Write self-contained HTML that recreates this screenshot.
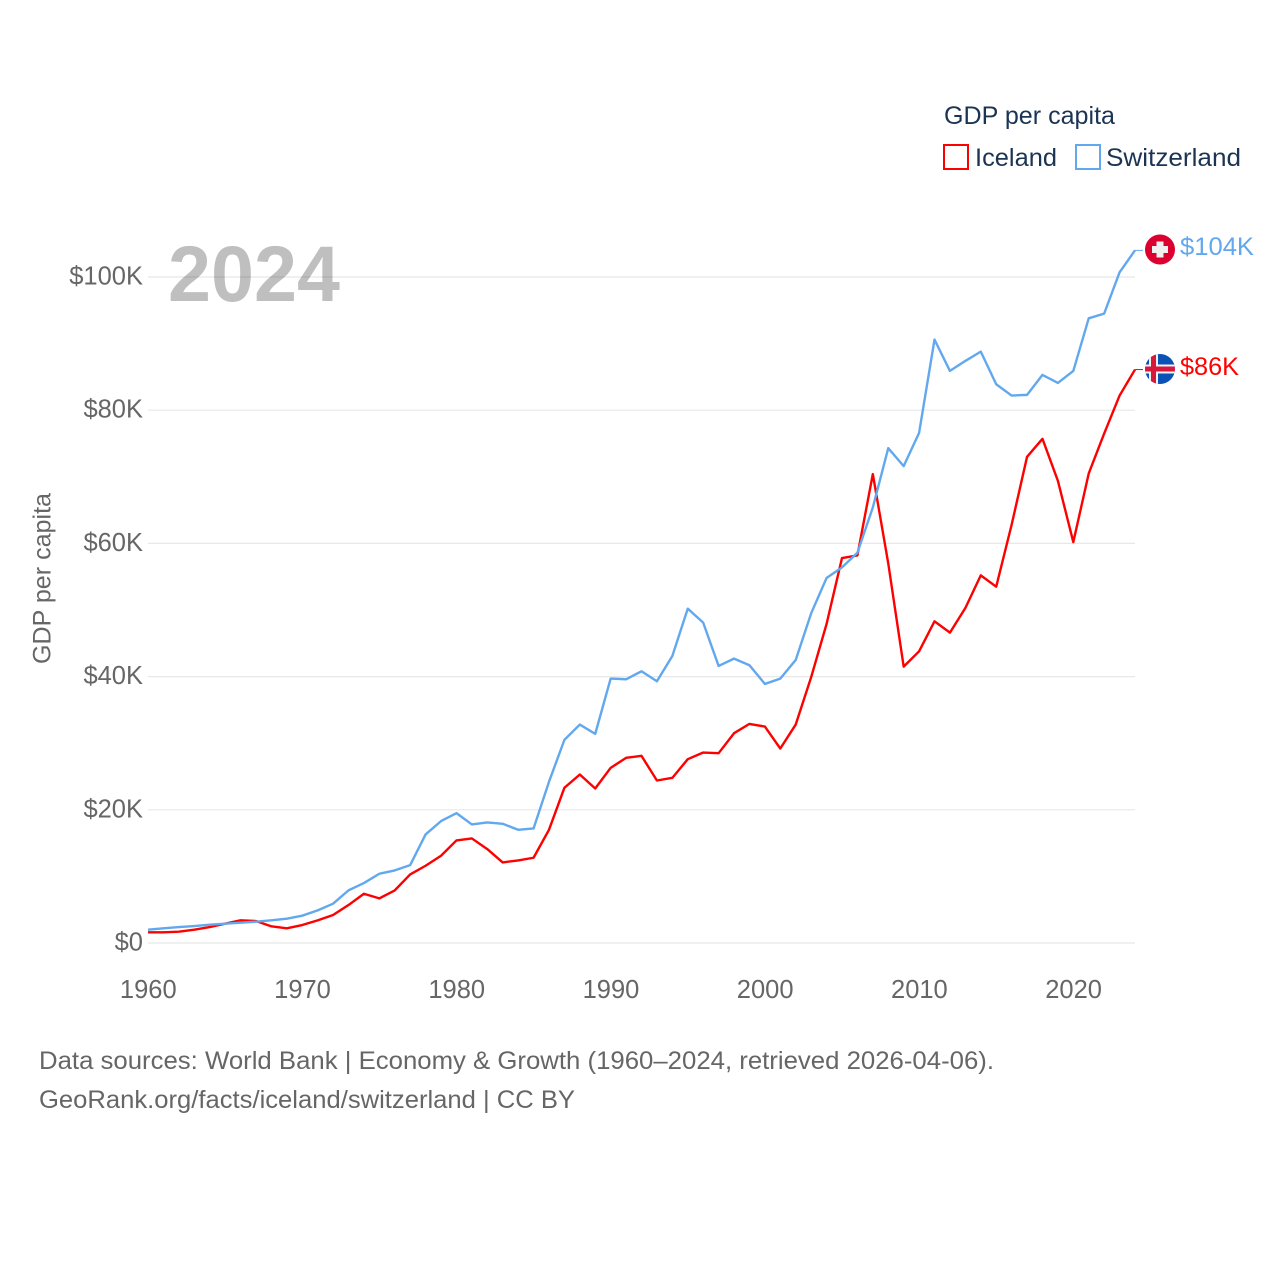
<!DOCTYPE html>
<html lang="en">
<head>
<meta charset="utf-8">
<title>GDP per capita: Iceland and Switzerland</title>
<style>
html,body{margin:0;padding:0;background:#fff;}
svg{display:block;font-family:"Liberation Sans",sans-serif;}
</style>
</head>
<body>
<svg id="chart" xmlns="http://www.w3.org/2000/svg" width="1280" height="1280" viewBox="0 0 1280 1280">
  <defs>
    <clipPath id="flag-clip-ch"><circle cx="1160" cy="249.5" r="15"/></clipPath>
    <clipPath id="flag-clip-is"><circle cx="1160" cy="369" r="15"/></clipPath>
  </defs>
  <g id="grid"></g>
  <g id="xticks"></g>
  <g id="yticks"></g>
  <text transform="translate(50.5,578.5) rotate(-90)" text-anchor="middle" font-size="25" fill="#666" textLength="171" lengthAdjust="spacingAndGlyphs">GDP per capita</text>
  <text x="168" y="301" font-size="79" font-weight="700" fill="#000" fill-opacity="0.25" textLength="172" lengthAdjust="spacingAndGlyphs">2024</text>
  <g id="series"></g>

  <g clip-path="url(#flag-clip-ch)">
    <rect x="1145" y="234" width="30" height="31" fill="#dc0030"/>
    <rect x="1156.5" y="241.5" width="7" height="16" fill="#f0f0f0"/>
    <rect x="1152" y="246" width="16" height="7" fill="#f0f0f0"/>
  </g>
  <text x="1180" y="255" font-size="25" fill="#62a8ee" textLength="74" lengthAdjust="spacingAndGlyphs">$104K</text>

  <g clip-path="url(#flag-clip-is)">
    <rect x="1145" y="354" width="30" height="30" fill="#0a52b5"/>
    <rect x="1149" y="354" width="9" height="30" fill="#f2f2f2"/>
    <rect x="1145" y="364.5" width="30" height="9" fill="#f2f2f2"/>
    <rect x="1151" y="354" width="5" height="30" fill="#d7183c"/>
    <rect x="1145" y="366.5" width="30" height="5" fill="#d7183c"/>
  </g>
  <text x="1180" y="375" font-size="25" fill="#ff0000" textLength="59" lengthAdjust="spacingAndGlyphs">$86K</text>

  <g>
    <text x="944" y="124" font-size="25" fill="#1b3454" textLength="171" lengthAdjust="spacingAndGlyphs">GDP per capita</text>
    <rect x="944" y="145" width="24" height="24" fill="none" stroke="#ff0000" stroke-width="2"/>
    <text x="975" y="166" font-size="25" fill="#1b3454" textLength="82" lengthAdjust="spacingAndGlyphs">Iceland</text>
    <rect x="1076" y="145" width="24" height="24" fill="none" stroke="#62a8ee" stroke-width="2"/>
    <text x="1106" y="166" font-size="25" fill="#1b3454" textLength="135" lengthAdjust="spacingAndGlyphs">Switzerland</text>
  </g>

  <text x="39" y="1069" font-size="25" fill="#666" textLength="955" lengthAdjust="spacingAndGlyphs">Data sources: World Bank | Economy &amp; Growth (1960–2024, retrieved 2026-04-06).</text>
  <text x="39" y="1108" font-size="25" fill="#666" textLength="536" lengthAdjust="spacingAndGlyphs">GeoRank.org/facts/iceland/switzerland | CC BY</text>
</svg>
<script>
const years = [1960,1961,1962,1963,1964,1965,1966,1967,1968,1969,1970,1971,1972,1973,1974,1975,1976,1977,1978,1979,1980,1981,1982,1983,1984,1985,1986,1987,1988,1989,1990,1991,1992,1993,1994,1995,1996,1997,1998,1999,2000,2001,2002,2003,2004,2005,2006,2007,2008,2009,2010,2011,2012,2013,2014,2015,2016,2017,2018,2019,2020,2021,2022,2023,2024];
const iceland = [1.6,1.6,1.7,2.0,2.4,2.9,3.4,3.3,2.5,2.2,2.7,3.4,4.2,5.7,7.4,6.7,7.9,10.3,11.6,13.1,15.4,15.7,14.1,12.1,12.4,12.8,17.0,23.3,25.3,23.2,26.3,27.8,28.1,24.4,24.8,27.6,28.6,28.5,31.5,32.9,32.5,29.2,32.8,39.9,47.9,57.8,58.2,70.4,57.0,41.5,43.8,48.3,46.6,50.3,55.2,53.5,62.8,73.0,75.7,69.4,60.2,70.5,76.5,82.2,86.1];
const switzerland = [2.0,2.2,2.4,2.55,2.75,2.9,3.05,3.2,3.4,3.65,4.1,4.9,5.9,7.9,9.0,10.4,10.9,11.7,16.3,18.3,19.5,17.8,18.1,17.9,17.0,17.2,24.2,30.5,32.8,31.4,39.7,39.6,40.8,39.3,43.1,50.2,48.1,41.6,42.7,41.7,38.9,39.7,42.5,49.5,54.8,56.4,58.6,65.4,74.3,71.6,76.6,90.6,85.9,87.4,88.8,83.9,82.2,82.3,85.3,84.1,85.9,93.8,94.5,100.7,104.0];
const xTickYears = [1960,1970,1980,1990,2000,2010,2020];
const yTickValues = [0,20,40,60,80,100];
const yTickLabels = ["$0","$20K","$40K","$60K","$80K","$100K"];

const SVG_NS = "http://www.w3.org/2000/svg";
function xScale(year){ return 148 + (year - 1960) * (1135 - 148) / (2024 - 1960); }
function yScale(value){ return 943 - value * (943 - 277) / 100; }
function make(tag, parent){
  const el = document.createElementNS(SVG_NS, tag);
  parent.appendChild(el);
  return el;
}

const gridGroup = document.getElementById("grid");
const yGroup = document.getElementById("yticks");
yTickValues.forEach(function(v, i){
  const line = make("line", gridGroup);
  
  
  line.setAttribute("x1", 148);
  line.setAttribute("x2", 1135);
  line.setAttribute("y1", yScale(v));
  line.setAttribute("y2", yScale(v));
  line.setAttribute("stroke", "#e8e8e8");
  line.setAttribute("stroke-width", "1.2");
  const label = make("text", yGroup);
  
  
  label.setAttribute("x", 143);
  label.setAttribute("y", yScale(v) + 7.5);
  label.setAttribute("text-anchor", "end");
  label.setAttribute("font-size", "25.5");
  label.setAttribute("fill", "#666");
  label.textContent = yTickLabels[i];
});

const xGroup = document.getElementById("xticks");
xTickYears.forEach(function(y){
  const label = make("text", xGroup);
  
  
  label.setAttribute("x", xScale(y) + 0.3);
  label.setAttribute("y", 998);
  label.setAttribute("text-anchor", "middle");
  label.setAttribute("font-size", "25.5");
  label.setAttribute("fill", "#666");
  label.textContent = String(y);
});

function pathFor(values){
  return values.map(function(v, i){
    return (i ? "L" : "M") + xScale(years[i]).toFixed(2) + " " + yScale(v).toFixed(2);
  }).join(" ");
}
function connectorFor(values){
  const last = values[values.length - 1];
  return "M" + xScale(years[years.length - 1]).toFixed(2) + " " + yScale(last).toFixed(2) + " H1143";
}

const seriesGroup = document.getElementById("series");

const icelandLine = make("path", seriesGroup);


icelandLine.setAttribute("d", pathFor(iceland));

const icelandConnector = make("path", seriesGroup);


icelandConnector.setAttribute("d", connectorFor(iceland));

const switzerlandLine = make("path", seriesGroup);


switzerlandLine.setAttribute("d", pathFor(switzerland));

const switzerlandConnector = make("path", seriesGroup);


switzerlandConnector.setAttribute("d", connectorFor(switzerland));

[[switzerlandLine, "#62a8ee", 2.4], [switzerlandConnector, "#62a8ee", 1], [icelandLine, "#ff0000", 2.4], [icelandConnector, "#ff0000", 1]].forEach(function(s){
  s[0].setAttribute("fill", "none");
  s[0].setAttribute("stroke", s[1]);
  s[0].setAttribute("stroke-width", s[2]);
  s[0].setAttribute("stroke-linejoin", "round");
});
</script>
</body>
</html>
